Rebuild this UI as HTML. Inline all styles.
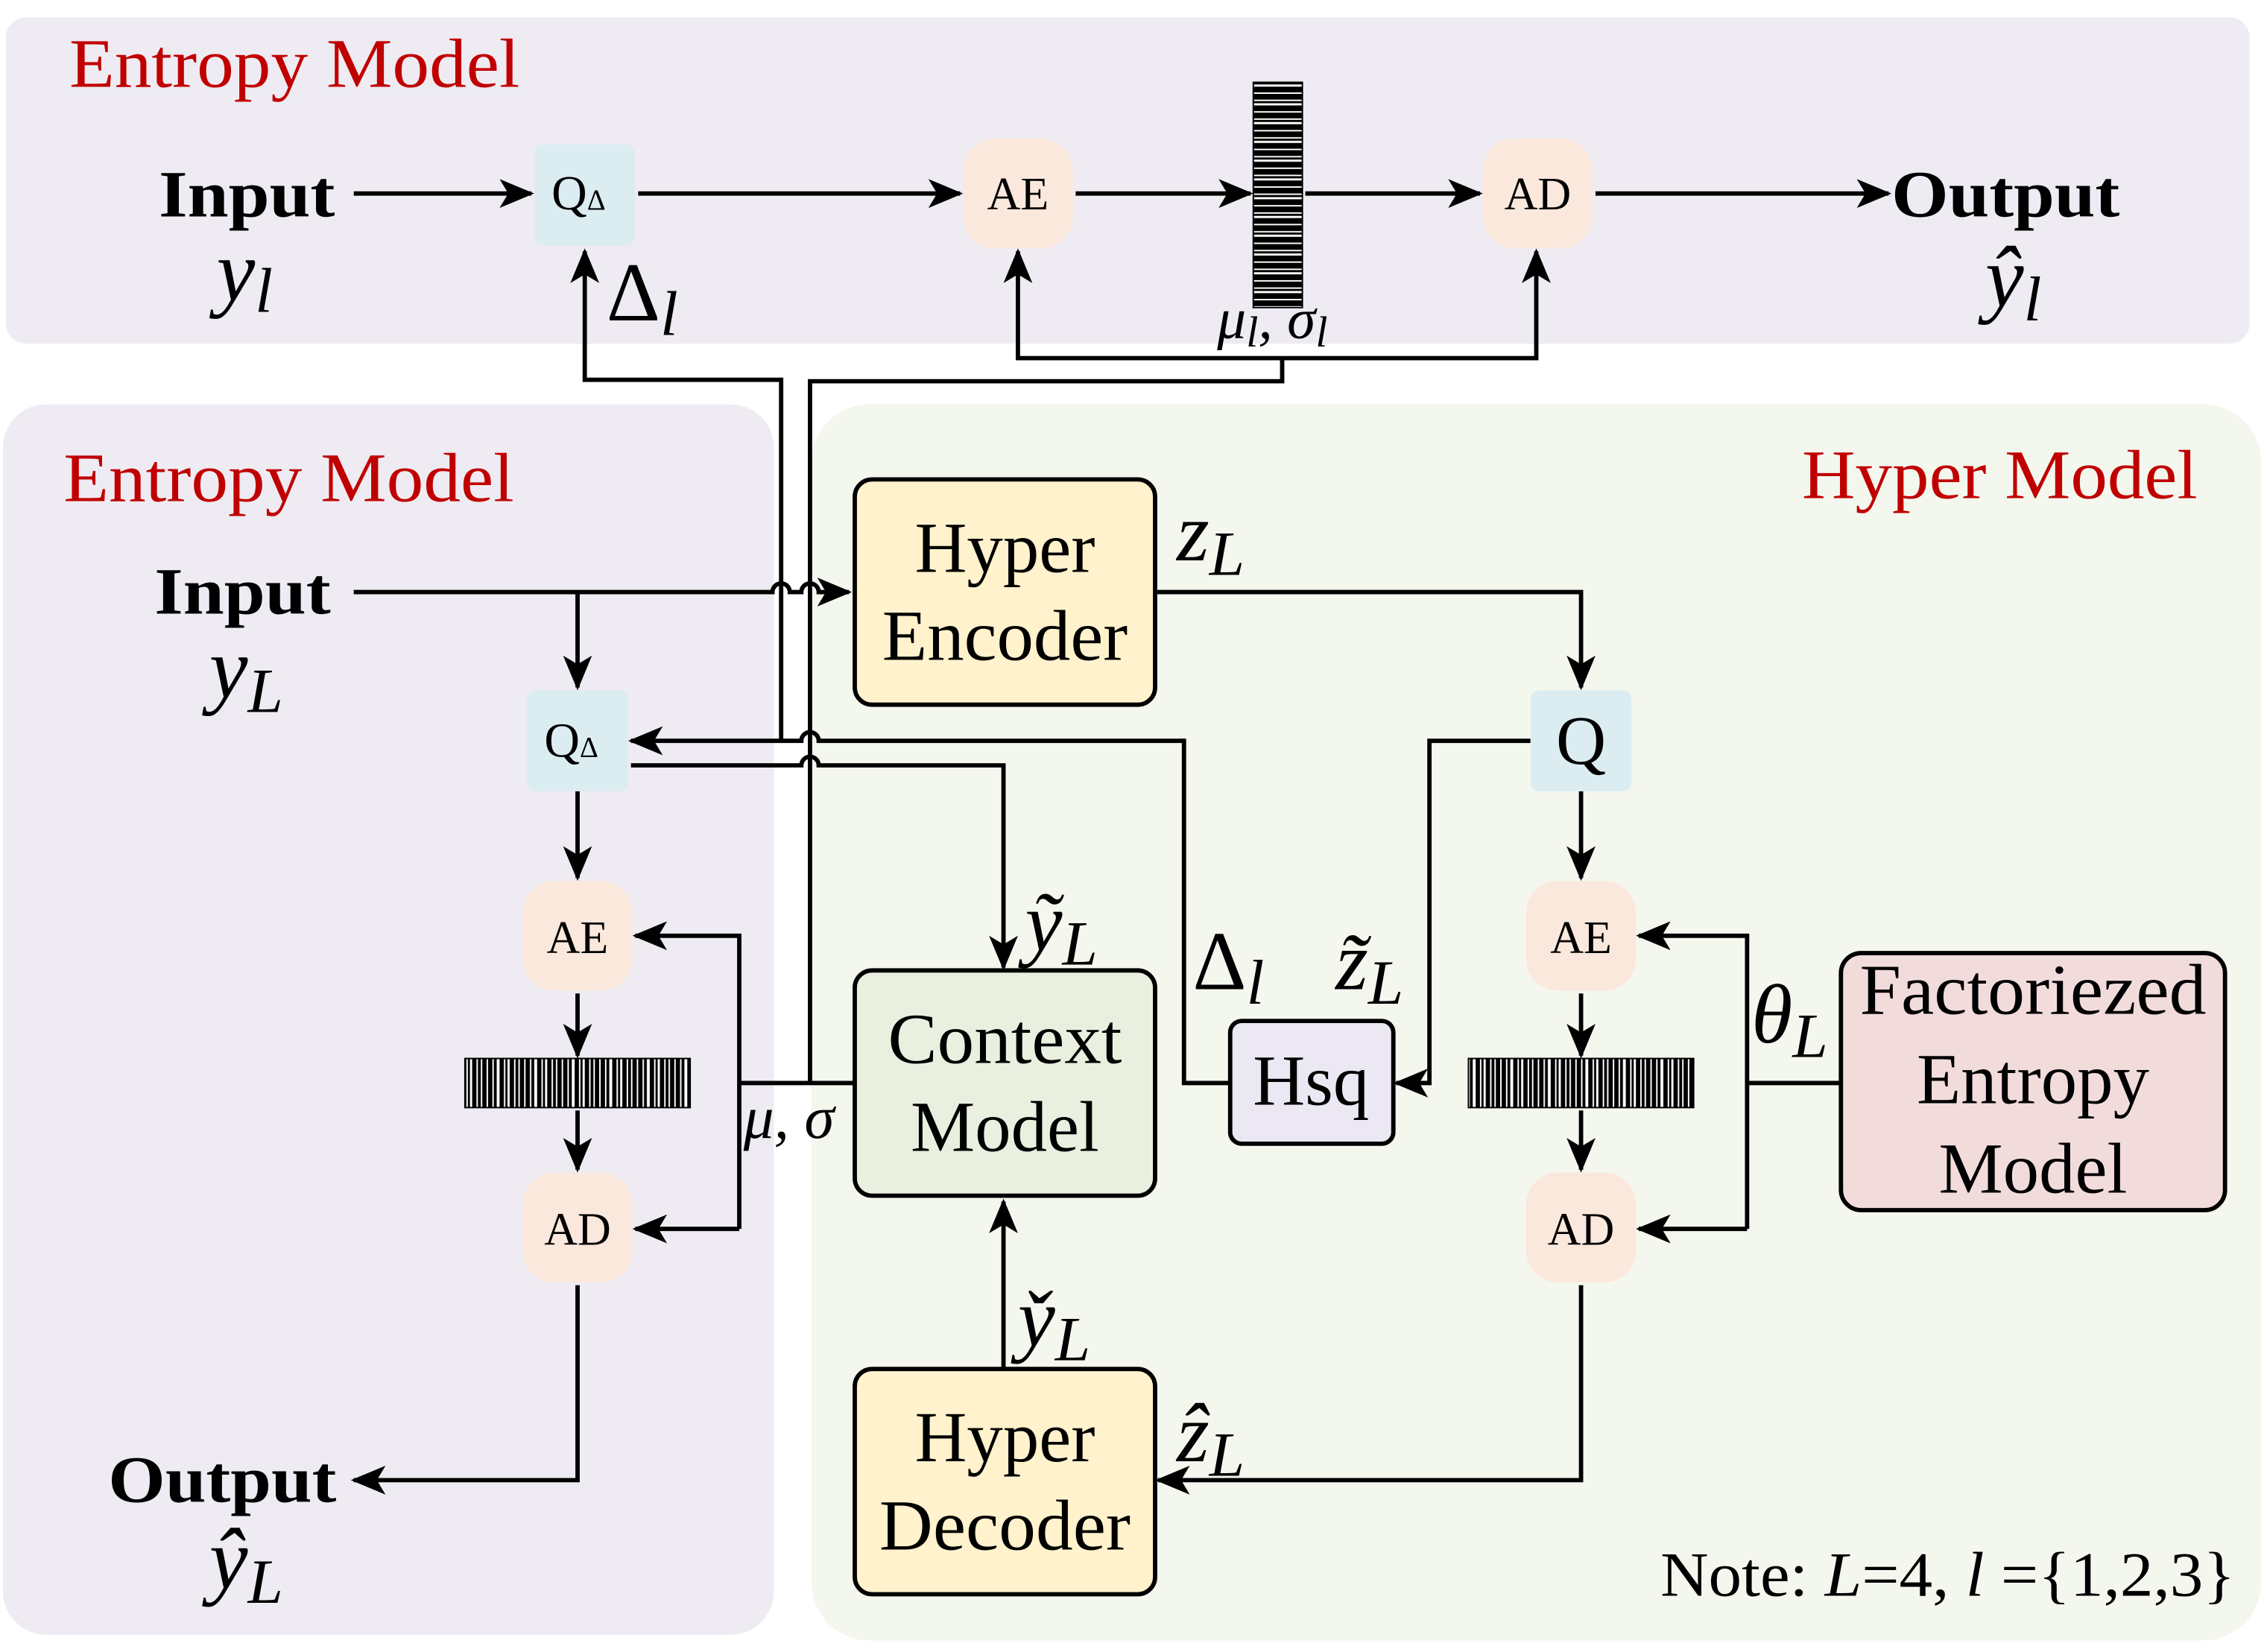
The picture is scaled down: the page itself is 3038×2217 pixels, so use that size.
<!DOCTYPE html>
<html><head><meta charset="utf-8"><style>
html,body{margin:0;padding:0;background:#fff;}
svg{display:block;}
text{font-family:"Liberation Serif",serif;}
.it{font-style:italic;}
</style></head><body>
<svg width="3038" height="2217" viewBox="0 0 1568 1144" preserveAspectRatio="none" xmlns="http://www.w3.org/2000/svg">
<defs>
<marker id="b" viewBox="0 0 12 10" refX="11" refY="5" markerWidth="24" markerHeight="20" markerUnits="userSpaceOnUse" orient="auto">
<path d="M0,0 L12,5 L0,10 L3,5 Z" fill="#000"/></marker>
<pattern id="vs" x="0" y="0" width="26" height="10" patternUnits="userSpaceOnUse">
<rect width="26" height="10" fill="#fff"/>
<rect x="0" width="3" height="10" fill="#000"/><rect x="4" width="2" height="10" fill="#000"/>
<rect x="8" width="3" height="10" fill="#000"/><rect x="12" width="1.5" height="10" fill="#000"/>
<rect x="15" width="3" height="10" fill="#000"/><rect x="19" width="2" height="10" fill="#000"/>
<rect x="22" width="3" height="10" fill="#000"/>
</pattern>
<pattern id="hs" x="0" y="0" width="10" height="13" patternUnits="userSpaceOnUse">
<rect width="10" height="13" fill="#fff"/>
<rect y="0" width="10" height="4" fill="#000"/><rect y="5" width="10" height="1.5" fill="#000"/>
<rect y="8" width="10" height="4" fill="#000"/>
</pattern>
</defs>

<rect x="4" y="12" width="1554" height="226" rx="14" fill="#efebf2"/>
<rect x="2" y="280" width="534" height="852" rx="30" fill="#efebf2"/>
<rect x="562" y="280" width="1004" height="856" rx="40" fill="#f4f7ee"/>

<text x="48" y="60" font-size="48" fill="#c00000" textLength="312" lengthAdjust="spacingAndGlyphs">Entropy Model</text>
<text x="44" y="347" font-size="48" fill="#c00000" textLength="312" lengthAdjust="spacingAndGlyphs">Entropy Model</text>
<text x="1248" y="345" font-size="48" fill="#c00000" textLength="274" lengthAdjust="spacingAndGlyphs">Hyper Model</text>

<text x="110" y="150" font-size="46" font-weight="bold" textLength="122" lengthAdjust="spacingAndGlyphs">Input</text>
<text x="150" y="208" font-size="60" class="it">y<tspan font-size="44" dy="8">l</tspan></text>
<rect x="370" y="100" width="70" height="70" rx="6" fill="#dcedf2"/>
<text x="382" y="145" font-size="34">Q<tspan font-size="20">Δ</tspan></text>
<rect x="667" y="96" width="76" height="76" rx="22" fill="#fbe8dc"/>
<text x="705" y="145" font-size="32" text-anchor="middle">AE</text>
<rect x="868" y="57" width="34" height="156" fill="url(#hs)" stroke="#000" stroke-width="1"/>
<rect x="1027" y="96" width="76" height="76" rx="22" fill="#fbe8dc"/>
<text x="1065" y="145" font-size="32" text-anchor="middle">AD</text>
<text x="1310" y="150" font-size="46" font-weight="bold" textLength="158" lengthAdjust="spacingAndGlyphs">Output</text>
<text x="1375" y="212" font-size="60" class="it">ŷ<tspan font-size="44" dy="10">l</tspan></text>
<text x="420" y="222" font-size="58">Δ<tspan font-size="44" dy="10" class="it">l</tspan></text>
<text x="843" y="234" font-size="40" class="it">μ<tspan font-size="30" dy="6">l</tspan><tspan dy="-6">, σ</tspan><tspan font-size="30" dy="6">l</tspan></text>

<g stroke="#000" stroke-width="3" fill="none">
<line x1="245" y1="134" x2="368" y2="134" marker-end="url(#b)"/>
<line x1="442" y1="134" x2="665" y2="134" marker-end="url(#b)"/>
<line x1="745" y1="134" x2="866" y2="134" marker-end="url(#b)"/>
<line x1="904" y1="134" x2="1025" y2="134" marker-end="url(#b)"/>
<line x1="1105" y1="134" x2="1308" y2="134" marker-end="url(#b)"/>
<polyline points="541,513 541,263 405,263 405,174" marker-end="url(#b)"/>
<polyline points="888,248 705,248 705,174" marker-end="url(#b)"/>
<polyline points="888,248 1064,248 1064,174" marker-end="url(#b)"/>
<polyline points="888,248 888,264 561,264 561,750"/>

<path d="M245,410 H535 a6,6 0 0 1 12,0 H555 a6,6 0 0 1 12,0 H588" marker-end="url(#b)"/>
<line x1="400" y1="410" x2="400" y2="476" marker-end="url(#b)"/>
<path d="M852,750 H820 V513 H567 a6,6 0 0 0 -12,0 H437" marker-end="url(#b)"/>
<path d="M437,530 H555 a6,6 0 0 1 12,0 H695 V670" marker-end="url(#b)"/>
<line x1="400" y1="548" x2="400" y2="608" marker-end="url(#b)"/>
<line x1="400" y1="688" x2="400" y2="731" marker-end="url(#b)"/>
<line x1="400" y1="769" x2="400" y2="810" marker-end="url(#b)"/>
<polyline points="400,890 400,1025 245,1025" marker-end="url(#b)"/>
<line x1="592" y1="750" x2="512" y2="750"/>
<polyline points="512,851 512,648 440,648" marker-end="url(#b)"/>
<line x1="512" y1="851" x2="440" y2="851" marker-end="url(#b)"/>

<polyline points="800,410 1095,410 1095,476" marker-end="url(#b)"/>
<polyline points="1060,513 990,513 990,750 967,750" marker-end="url(#b)"/>
<line x1="1095" y1="548" x2="1095" y2="608" marker-end="url(#b)"/>
<line x1="1095" y1="688" x2="1095" y2="731" marker-end="url(#b)"/>
<line x1="1095" y1="769" x2="1095" y2="810" marker-end="url(#b)"/>
<polyline points="1095,890 1095,1025 802,1025" marker-end="url(#b)"/>
<line x1="1275" y1="750" x2="1210" y2="750"/>
<polyline points="1210,851 1210,648 1135,648" marker-end="url(#b)"/>
<line x1="1210" y1="851" x2="1135" y2="851" marker-end="url(#b)"/>
<line x1="695" y1="948" x2="695" y2="832" marker-end="url(#b)"/>
</g>

<text x="107" y="425" font-size="46" font-weight="bold" textLength="122" lengthAdjust="spacingAndGlyphs">Input</text>
<text x="145" y="483" font-size="60" class="it">y<tspan font-size="44" dy="10">L</tspan></text>
<rect x="365" y="478" width="70" height="70" rx="6" fill="#dcedf2"/>
<text x="377" y="524" font-size="34">Q<tspan font-size="20">Δ</tspan></text>
<rect x="362" y="610" width="76" height="76" rx="22" fill="#fbe8dc"/>
<text x="400" y="660" font-size="32" text-anchor="middle">AE</text>
<rect x="322" y="733" width="156" height="34" fill="url(#vs)" stroke="#000" stroke-width="1"/>
<rect x="362" y="812" width="76" height="76" rx="22" fill="#fbe8dc"/>
<text x="400" y="862" font-size="32" text-anchor="middle">AD</text>
<text x="75" y="1040" font-size="46" font-weight="bold" textLength="158" lengthAdjust="spacingAndGlyphs">Output</text>
<text x="145" y="1100" font-size="60" class="it">ŷ<tspan font-size="44" dy="10">L</tspan></text>
<text x="515" y="788" font-size="42" class="it">μ, σ</text>

<g stroke="#000" stroke-width="3">
<rect x="592" y="332" width="208" height="156" rx="12" fill="#fff2cc"/>
<rect x="592" y="672" width="208" height="156" rx="12" fill="#e9f0e0"/>
<rect x="592" y="948" width="208" height="156" rx="12" fill="#fff2cc"/>
<rect x="852" y="707" width="113" height="85" rx="8" fill="#ebe8f3"/>
<rect x="1275" y="660" width="266" height="178" rx="14" fill="#f2dcdb"/>
</g>
<g font-size="50" text-anchor="middle">
<text x="696" y="396">Hyper</text><text x="696" y="457" textLength="170" lengthAdjust="spacingAndGlyphs">Encoder</text>
<text x="696" y="736" textLength="162" lengthAdjust="spacingAndGlyphs">Context</text><text x="696" y="797">Model</text>
<text x="696" y="1012">Hyper</text><text x="696" y="1073" textLength="174" lengthAdjust="spacingAndGlyphs">Decoder</text>
<text x="908" y="765">Hsq</text>
<text x="1408" y="702" textLength="240" lengthAdjust="spacingAndGlyphs">Factoriezed</text><text x="1408" y="764">Entropy</text><text x="1408" y="826">Model</text>
</g>
<rect x="1060" y="478" width="70" height="70" rx="6" fill="#dcedf2"/>
<text x="1095" y="529" font-size="48" text-anchor="middle">Q</text>
<rect x="1057" y="610" width="76" height="76" rx="22" fill="#fbe8dc"/>
<text x="1095" y="660" font-size="32" text-anchor="middle">AE</text>
<rect x="1017" y="733" width="156" height="34" fill="url(#vs)" stroke="#000" stroke-width="1"/>
<rect x="1057" y="812" width="76" height="76" rx="22" fill="#fbe8dc"/>
<text x="1095" y="862" font-size="32" text-anchor="middle">AD</text>

<text x="815" y="388" font-size="58" class="it">z<tspan font-size="44" dy="10">L</tspan></text>
<text x="710" y="658" font-size="58" class="it">ỹ<tspan font-size="44" dy="10">L</tspan></text>
<text x="826" y="685" font-size="58">Δ<tspan font-size="44" dy="10" class="it">l</tspan></text>
<text x="925" y="685" font-size="58" class="it">z̃<tspan font-size="44" dy="10">L</tspan></text>
<text x="1213" y="722" font-size="58" class="it">θ<tspan font-size="44" dy="10">L</tspan></text>
<text x="705" y="932" font-size="58" class="it">y̌<tspan font-size="44" dy="10">L</tspan></text>
<text x="815" y="1012" font-size="58" class="it">ẑ<tspan font-size="44" dy="10">L</tspan></text>
<text x="1150" y="1105" font-size="44" textLength="398" lengthAdjust="spacingAndGlyphs">Note: <tspan class="it">L</tspan>=4, <tspan class="it">l</tspan> ={1,2,3}</text>
</svg>
</body></html>
